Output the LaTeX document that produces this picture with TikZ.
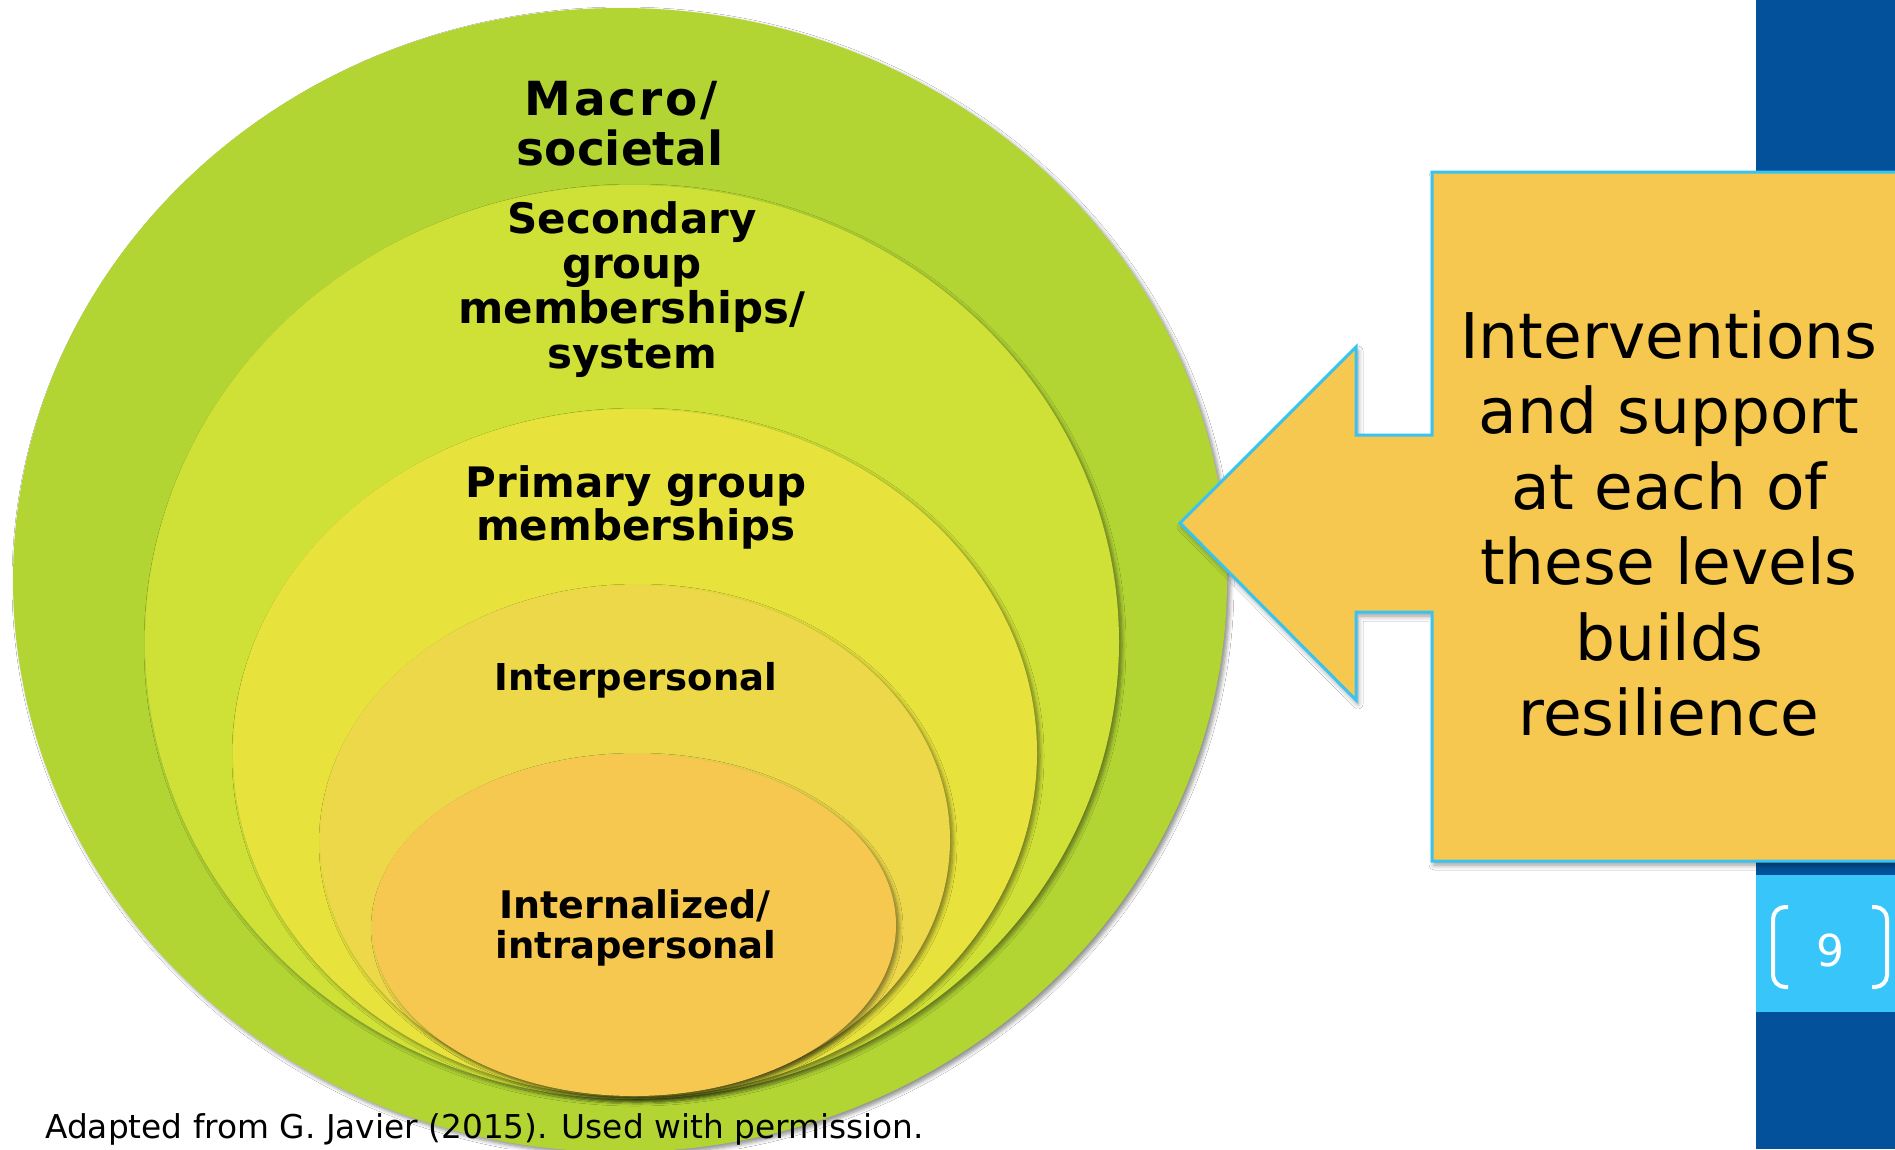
\documentclass[tikz,border=0pt]{standalone}
\usepackage{fontspec}
\setmainfont{DejaVu Sans}
\usetikzlibrary{shadows,shadows.blur}

\definecolor{lvlmacro}{HTML}{B2D534}
\definecolor{lvlsecond}{HTML}{CFE036}
\definecolor{lvlprimary}{HTML}{E8E33C}
\definecolor{lvlinter}{HTML}{EDD84A}
\definecolor{lvlintra}{HTML}{F6C850}
\definecolor{calloutfill}{HTML}{F7C850}
\definecolor{calloutline}{HTML}{3BC3F0}
\definecolor{stripblue}{HTML}{03519B}
\definecolor{tabblue}{HTML}{38C6FA}

\tikzset{
  ring/.style={fill=#1, blur shadow={shadow xshift=3pt, shadow yshift=-3pt,
      shadow opacity=45, shadow blur steps=6, shadow blur radius=4pt}},
  lvltext/.style={font=\fontsize{#1}{#1}\bfseries\selectfont, inner sep=0pt,
      anchor=base, text=black},
  callouttext/.style={font=\fontsize{63}{63}\selectfont, inner sep=0pt,
      anchor=base, text=black},
}

\begin{document}
\begin{tikzpicture}[x=1pt,y=-1pt]
\useasboundingbox (0,0) rectangle (1895,1149);
\fill[white] (0,0) rectangle (1895,1149);
\begin{scope}
\clip (0,0) rectangle (1895,1149);

% slide side strip with the page tab
\fill[stripblue] (1756,0) rectangle (1895,1149);
\fill[tabblue] (1756,875) rectangle (1895,1012);

% nested levels, outermost first
\path[ring=lvlmacro]   (620,580) ellipse [x radius=607, y radius=572];
\path[ring=lvlsecond]  (632,642) ellipse [x radius=487, y radius=457];
\path[ring=lvlprimary] (635,753) ellipse [x radius=402, y radius=344];
\path[ring=lvlinter]   (635,840) ellipse [x radius=315, y radius=255];
\path[ring=lvlintra]   (634,925) ellipse [x radius=262, y radius=171];

% left-pointing callout
\draw[calloutline, line width=3pt, fill=calloutfill, line join=miter,
      blur shadow={shadow xshift=2pt, shadow yshift=-4pt, shadow opacity=40,
      shadow blur steps=6, shadow blur radius=5pt}]
  (1432,172) -- (1912,172) -- (1912,861) -- (1432,861) -- (1432,612)
  -- (1356,612) -- (1356,700) -- (1180,523) -- (1356,347) -- (1356,435)
  -- (1432,435) -- cycle;
\end{scope}

% level labels
\node[lvltext=47] (macroA) at (621,115) {\addfontfeatures{LetterSpace=6}Macro/};
\node[lvltext=47] (macroB) at (620,165) {societal};
\node[lvltext=42] (secA) at (632,233) {Secondary};
\node[lvltext=42] (secB) at (632,278) {group};
\node[lvltext=43.5] (secC) at (632,323) {memberships/};
\node[lvltext=42] (secD) at (632,368) {system};
\node[lvltext=42] (primA) at (636,497) {Primary group};
\node[lvltext=42] (primB) at (636,540) {memberships};
\node[lvltext=37] (inter) at (636,690) {Interpersonal};
\node[lvltext=38] (intraA) at (635,918) {Internalized/};
\node[lvltext=37] (intraB) at (636,958) {intrapersonal};

% callout text
\node[callouttext] (cA) at (1669,358)   {Interventions};
\node[callouttext] (cB) at (1669,433.5) {and support};
\node[callouttext] (cC) at (1669,509)   {at each of};
\node[callouttext] (cD) at (1669,584.5) {these levels};
\node[callouttext] (cE) at (1669,660)   {builds};
\node[callouttext] (cF) at (1669,735.5) {resilience};

% page number tab
\node[font=\fontsize{44}{44}\selectfont, text=white, inner sep=0pt] (pagenum) at (1830,950) {9};
\draw[white, line width=4pt, rounded corners=12pt]
  (1788,907) -- (1773,907) -- (1773,987) -- (1788,987);
\draw[white, line width=4pt, rounded corners=12pt]
  (1872,907) -- (1887,907) -- (1887,987) -- (1872,987);

% source note
\node[font=\fontsize{32.8}{32.8}\selectfont, inner sep=0pt, anchor=base west, text=black]
  (source) at (45,1138) {Adapted from G. Javier (2015). Used with permission.};
\end{tikzpicture}
\end{document}
